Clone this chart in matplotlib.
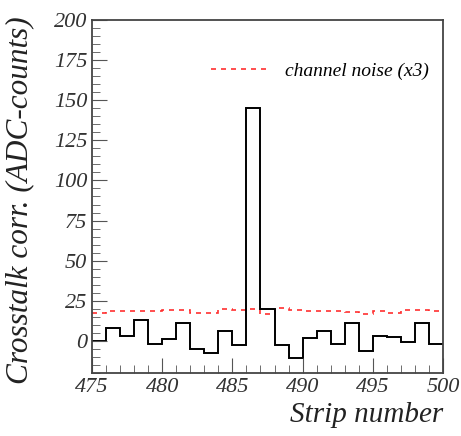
import numpy as np
import matplotlib
matplotlib.use("Agg")
from matplotlib import pyplot as plt
from matplotlib.ticker import MultipleLocator

# strip bin edges 475..500
edges = np.arange(475, 501)
crosstalk = [0, 8.3, 3, 13, -1.7, 1.5, 11, -5, -7.5, 6.3, -2.5, 145, 19.6, -2.5,
             -10.4, 2, 6.3, -1.7, 11, -6, 3, 2.5, -0.5, 11, -1.7]
noise_x3 = [17.5, 18.7, 18.7, 18.7, 18.5, 19.5, 19.5, 17.5, 17.5, 20, 19.5, 20,
            17, 20.5, 19, 18.8, 18.8, 18.5, 18.3, 16.5, 18.5, 17.5, 19, 19, 18.7]

plt.rcParams['font.family'] = ['Liberation Serif', 'DejaVu Serif']

fig = plt.figure(figsize=(4.61, 4.36), dpi=100)
ax = fig.add_axes([92 / 461, 63 / 436, 351 / 461, 353 / 436])

ax.stairs(noise_x3, edges, baseline=None, color='#ff3030', lw=1.2,
          linestyle=(0, (3, 3)), label='channel noise (x3)')
ax.stairs(crosstalk, edges, baseline=None, color='black', lw=1.4)

ax.set_xlim(475, 500)
ax.set_ylim(-20, 200)
ax.xaxis.set_major_locator(MultipleLocator(5))
ax.xaxis.set_minor_locator(MultipleLocator(1))
ax.yaxis.set_major_locator(MultipleLocator(25))
ax.yaxis.set_minor_locator(MultipleLocator(5))
ax.tick_params(which='both', direction='in', top=False, right=False,
               color='#555555', labelcolor='#333333')
ax.tick_params(which='major', length=11, labelsize=16)
ax.tick_params(which='minor', length=6)
for lbl in ax.get_xticklabels() + ax.get_yticklabels():
    lbl.set_fontstyle('italic')
for s in ax.spines.values():
    s.set_color('#444444')
    s.set_linewidth(1.3)

ax.set_ylabel('Crosstalk corr. (ADC-counts)', fontsize=22.5, style='italic',
              color='#222222')
ax.yaxis.set_label_coords(-0.165, 0.49)
fig.text(443 / 461, 8 / 436, 'Strip number', fontsize=21, style='italic',
         ha='right', va='bottom', color='#222222')

leg = ax.legend(loc='upper right', bbox_to_anchor=(1.01, 0.93), frameon=False,
                prop={'size': 14, 'style': 'italic'}, handlelength=3.0)

fig.savefig('out.png', dpi=100)
